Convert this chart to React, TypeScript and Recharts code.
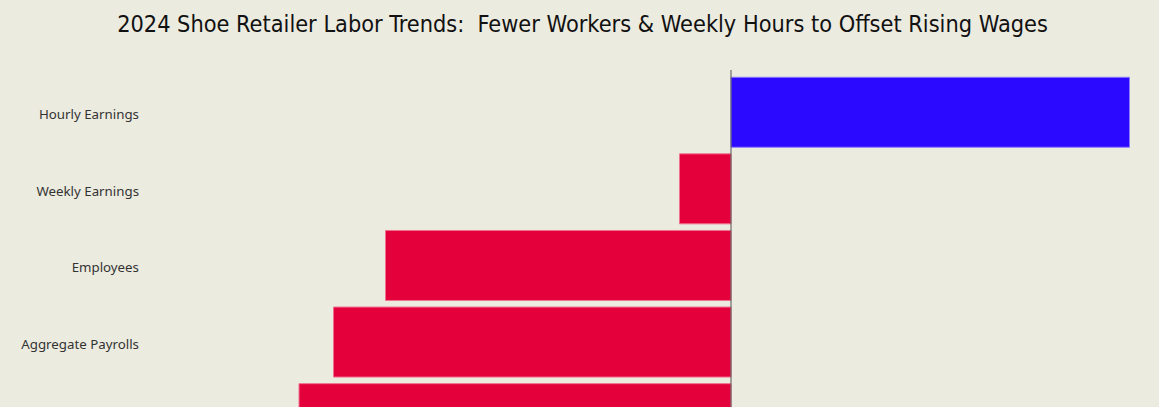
import React from "react";
import { BarChart, Bar, XAxis, YAxis, Cell, ReferenceLine } from "recharts";

const categories = ["Hourly Earnings", "Weekly Earnings", "Employees", "Aggregate Payrolls", "Weekly Hours"];
const changes = [7.97, -1.03, -6.91, -7.95, -8.64];

const data = categories.map((name, i) => ({ name, value: changes[i] }));

const BG = "#ECEBE0";

export default function App() {
  return (
    <div style={{ position: "fixed", left: 0, top: 0, width: 1159, height: 407, overflow: "hidden", background: BG }}>
      <div
        style={{
          position: "absolute",
          left: 0,
          top: 10,
          width: 1165,
          textAlign: "center",
          fontFamily: "'Liberation Sans Narrow', 'DejaVu Sans Condensed', 'Noto Sans', sans-serif",
          fontStretch: "condensed",
          fontSize: 23.3,
          color: "#111",
          whiteSpace: "pre",
        }}
      >
        {"2024 Shoe Retailer Labor Trends:  Fewer Workers & Weekly Hours to Offset Rising Wages"}
      </div>
      <div style={{ position: "absolute", left: 0, top: 0 }}>
        <BarChart
          width={1159}
          height={457}
          data={data}
          layout="vertical"
          margin={{ top: 70, right: 19, bottom: 0, left: 0 }}
          barCategoryGap="4.25%"
        >
          <XAxis type="number" domain={[-11.68, 8.18]} hide />
          <YAxis
            type="category"
            dataKey="name"
            width={147}
            axisLine={false}
            tickLine={false}
            padding={{ top: 4, bottom: 0 }}
            tick={{ fontSize: 13.3, fill: "#333", fontFamily: "'Noto Sans', sans-serif", dy: 2 }}
          />
          <Bar dataKey="value" isAnimationActive={false} strokeWidth={1}>
            {data.map((d, i) => (
              <Cell
                key={i}
                fill={d.value >= 0 ? "#2B08FF" : "#E4003A"}
                stroke={d.value >= 0 ? "#8C7CFF" : "#F07090"}
              />
            ))}
          </Bar>
          <ReferenceLine x={0} stroke="#555" strokeWidth={1} ifOverflow="extendDomain" />
        </BarChart>
      </div>
    </div>
  );
}
